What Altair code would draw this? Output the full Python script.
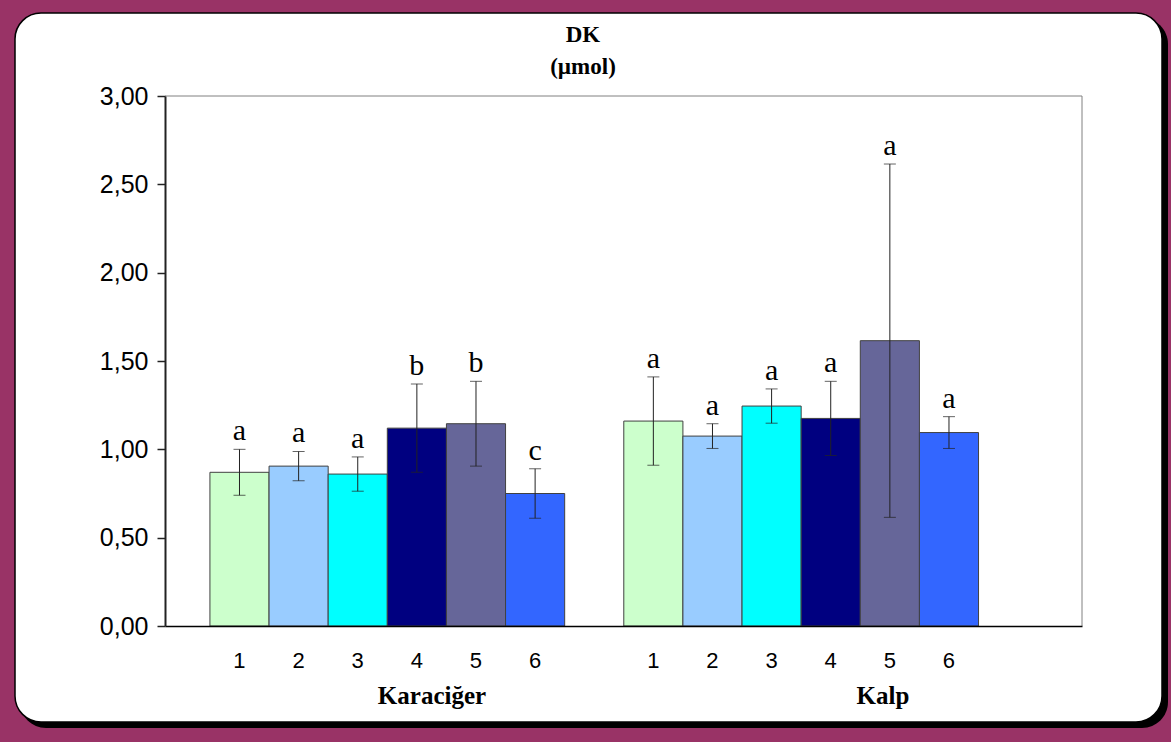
import altair as alt
import pandas as pd

# Group names, bar numbers and bar fill colours
groups = ["Karaciğer", "Kalp"]
numbers = ["1", "2", "3", "4", "5", "6"]
bar_colors = ["#CCFFCC", "#99CCFF", "#00FFFF", "#000080", "#666699", "#3366FF"]

# DK (µmol) means, standard deviations and significance letters
liver_means = [0.87, 0.905, 0.86, 1.12, 1.145, 0.75]
liver_sd = [0.13, 0.083, 0.097, 0.25, 0.24, 0.14]
liver_letters = ["a", "a", "a", "b", "b", "c"]

heart_means = [1.16, 1.075, 1.245, 1.175, 1.615, 1.095]
heart_sd = [0.25, 0.07, 0.097, 0.21, 1.0, 0.09]
heart_letters = ["a", "a", "a", "a", "a", "a"]

title_lines = ["DK", "(µmol)"]
y_ticks = [0.0, 0.5, 1.0, 1.5, 2.0, 2.5, 3.0]

rows = []
for g, (means, sds, letters) in enumerate(
    [(liver_means, liver_sd, liver_letters), (heart_means, heart_sd, heart_letters)]
):
    for i, num in enumerate(numbers):
        slot = g * 7 + i
        rows.append(
            {
                "group": groups[g],
                "num": num,
                "x0": slot,
                "x1": slot + 1,
                "xc": slot + 0.5,
                "zero": 0.0,
                "mean": means[i],
                "lo": means[i] - sds[i],
                "hi": means[i] + sds[i],
                "letter": letters[i],
            }
        )
df = pd.DataFrame(rows)

W, H = 917, 530
xscale = alt.Scale(domain=[-0.76, 14.75], nice=False, zero=False)
yscale = alt.Scale(domain=[0, 3], nice=False)
one = pd.DataFrame({"k": [0]})

# White card with a drop shadow behind the plot
shadow = alt.Chart(one).mark_rect(color="black", cornerRadius=26).encode(
    x=alt.value(-145), x2=alt.value(1003), y=alt.value(-78), y2=alt.value(632)
)
card = alt.Chart(one).mark_rect(
    fill="white", stroke="black", strokeWidth=1.5, cornerRadius=26
).encode(x=alt.value(-150), x2=alt.value(997), y=alt.value(-83), y2=alt.value(626))

# Gray frame on the top and right of the plot area
frame_top = alt.Chart(one).mark_rule(color="#808080", strokeWidth=1).encode(
    x=alt.value(0), x2=alt.value(W), y=alt.value(0)
)
frame_right = alt.Chart(one).mark_rule(color="#808080", strokeWidth=1).encode(
    x=alt.value(W), y=alt.value(0), y2=alt.value(H)
)

base = alt.Chart(df)

bars = base.mark_rect(stroke="#404040", strokeWidth=1).encode(
    x=alt.X(
        "x0:Q",
        scale=xscale,
        axis=alt.Axis(
            labels=False, ticks=False, grid=False, title=None,
            domainColor="black", domainWidth=1.5, zindex=1,
        ),
    ),
    x2="x1:Q",
    y=alt.Y(
        "mean:Q",
        scale=yscale,
        axis=alt.Axis(
            values=y_ticks,
            labelExpr="replace(format(datum.value, '.2f'), '.', ',')",
            grid=False, title=None,
            domainColor="#222222", domainWidth=2,
            tickColor="#222222", tickSize=8, tickWidth=1.5,
            labelFont="Liberation Sans", labelFontSize=25, labelColor="black",
            labelPadding=9, zindex=1,
        ),
    ),
    y2="zero:Q",
    color=alt.Color("num:N", scale=alt.Scale(domain=numbers, range=bar_colors), legend=None),
)

err = base.mark_rule(color="#222222", strokeWidth=1).encode(
    x=alt.X("xc:Q", scale=xscale, axis=None),
    y=alt.Y("lo:Q", scale=yscale, axis=None),
    y2="hi:Q",
)
caps_hi = base.mark_tick(color="#222222", orient="horizontal", size=12, thickness=1).encode(
    x=alt.X("xc:Q", scale=xscale, axis=None),
    y=alt.Y("hi:Q", scale=yscale, axis=None),
)
caps_lo = base.mark_tick(color="#222222", orient="horizontal", size=12, thickness=1).encode(
    x=alt.X("xc:Q", scale=xscale, axis=None),
    y=alt.Y("lo:Q", scale=yscale, axis=None),
)

letters = base.mark_text(
    font="Liberation Serif", fontSize=30, baseline="alphabetic", dy=-9, color="black"
).encode(
    x=alt.X("xc:Q", scale=xscale, axis=None),
    y=alt.Y("hi:Q", scale=yscale, axis=None),
    text="letter:N",
)

digits = base.mark_text(
    font="Liberation Sans", fontSize=22, baseline="alphabetic", color="black"
).encode(
    x=alt.X("xc:Q", scale=xscale, axis=None),
    y=alt.value(572),
    text="num:N",
)

group_df = pd.DataFrame({"group": groups, "px": [267, 718]})
group_labels = alt.Chart(group_df).mark_text(
    font="Liberation Serif", fontSize=25, fontWeight="bold", baseline="alphabetic", color="black"
).encode(x=alt.X("px:Q", scale=None, axis=None), y=alt.value(608), text="group:N")

title_df = pd.DataFrame({"line": title_lines, "py": [-54, -22]})
title = alt.Chart(title_df).mark_text(
    font="Liberation Serif", fontSize=23, fontWeight="bold", baseline="alphabetic", color="black"
).encode(x=alt.value(418), y=alt.Y("py:Q", scale=None, axis=None), text="line:N")

chart = (
    alt.layer(
        shadow, card, frame_top, frame_right,
        bars, err, caps_hi, caps_lo, letters, digits, group_labels, title,
    )
    .resolve_scale(x="independent", y="independent")
    .properties(
        width=W,
        height=H,
        autosize=alt.AutoSizeParams(type="none"),
        padding={"left": 165, "top": 96, "right": 89, "bottom": 116},
        background="#993366",
    )
    .configure_view(stroke=None)
)

chart.save("out.html", embed_options={"renderer": "svg", "actions": False})
